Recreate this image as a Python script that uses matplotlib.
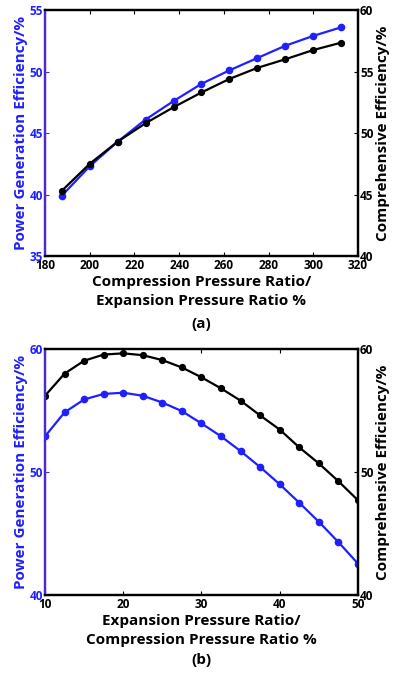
import matplotlib.pyplot as plt

plt.rcParams['font.family'] = ['Open Sans', 'DejaVu Sans']
plt.rcParams['font.weight'] = 'bold'

# panel (a): compression / expansion pressure ratio
ratio_a = [187.5, 200, 212.5, 225, 237.5, 250, 262.5, 275, 287.5, 300, 312.5]
power_a = [39.9, 42.3, 44.3, 46.1, 47.6, 49.0, 50.1, 51.1, 52.1, 52.9, 53.6]
comp_a = [45.3, 47.5, 49.3, 50.8, 52.1, 53.3, 54.4, 55.3, 56.0, 56.75, 57.35]

# panel (b): expansion / compression pressure ratio
ratio_b = [10, 12.5, 15, 17.5, 20, 22.5, 25, 27.5, 30, 32.5, 35, 37.5, 40, 42.5, 45, 47.5, 50]
power_b = [52.9, 54.85, 55.9, 56.35, 56.45, 56.2, 55.65, 54.95, 53.95, 52.9, 51.7,
           50.4, 49.0, 47.5, 45.95, 44.3, 42.55]
comp_b = [56.2, 58.0, 59.05, 59.55, 59.65, 59.5, 59.1, 58.5, 57.7, 56.8, 55.8,
          54.6, 53.45, 52.0, 50.7, 49.25, 47.7]

BLUE = '#1f1fff'
SPINE = '#4a28d8'

fig = plt.figure(figsize=(3.93, 6.75), dpi=100)


def panel(rect, x, p, c, xlim, xticks, ylim_l, yticks_l, ylim_r, yticks_r, xlabel, tag):
    ax = fig.add_axes(rect)
    ax2 = ax.twinx()
    ax.plot(x, p, '-o', color=BLUE, lw=1.6, ms=4.5, zorder=3)
    ax2.plot(x, c, '-o', color='black', lw=1.6, ms=4.2)
    ax.set_xlim(*xlim)
    ax.set_xticks(xticks)
    ax.set_ylim(*ylim_l)
    ax.set_yticks(yticks_l)
    ax2.set_ylim(*ylim_r)
    ax2.set_yticks(yticks_r)
    for a in (ax, ax2):
        for s in a.spines.values():
            s.set_linewidth(1.6)
        a.spines['left'].set_color(SPINE)
    ax.tick_params(axis='x', direction='in', top=True, length=3, labelsize=8.5, pad=2)
    ax.tick_params(axis='y', direction='in', length=3, colors=SPINE, labelcolor=BLUE,
                   labelsize=8.5, pad=1.5)
    ax2.tick_params(axis='y', direction='in', length=3, labelsize=8.5, pad=1.5)
    ax.set_ylabel('Power Generation Efficiency/%', color=BLUE, fontsize=11,
                  fontweight='bold', labelpad=1)
    ax2.set_ylabel('Comprehensive Efficiency/%', fontsize=11, fontweight='bold', labelpad=2)
    ax.set_xlabel(xlabel, fontsize=11, fontweight='bold', linespacing=1.5, labelpad=2)
    ax.text(0.5, tag[1], tag[0], transform=ax.transAxes, ha='center', va='center',
            fontsize=11, fontweight='bold')
    return ax, ax2


panel([0.1145, 0.6207, 0.7964, 0.3644], ratio_a, power_a, comp_a, (180, 320),
      range(180, 321, 20), (35, 55), range(35, 56, 5), (40, 60), range(40, 61, 5),
      'Compression Pressure Ratio/\nExpansion Pressure Ratio %', ('(a)', -0.275))

panel([0.1145, 0.1185, 0.7964, 0.3644], ratio_b, power_b, comp_b, (10, 50),
      range(10, 51, 10), (40, 60), [40, 50, 60], (40, 60), [40, 50, 60],
      'Expansion Pressure Ratio/\nCompression Pressure Ratio %', ('(b)', -0.265))

fig.savefig('out.png', dpi=100)
